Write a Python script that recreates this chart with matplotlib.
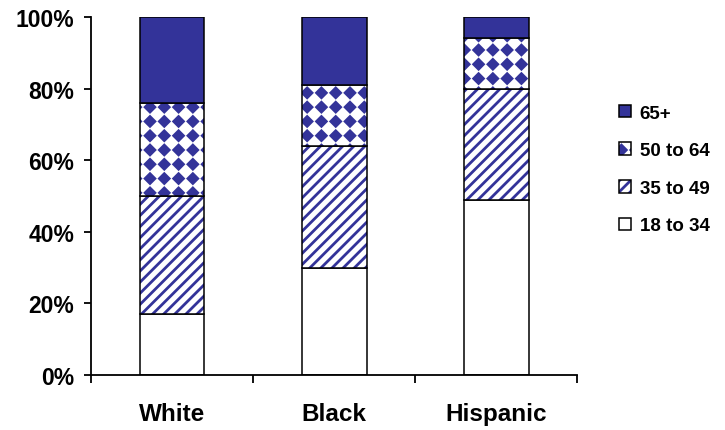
import numpy as np
import matplotlib
matplotlib.use("Agg")
import matplotlib.pyplot as plt
import matplotlib.hatch as mhatch
from matplotlib.path import Path
from matplotlib.colors import to_rgba

# data (percent of each group)
groups = ["White", "Black", "Hispanic"]
age_bands = ["18 to 34", "35 to 49", "50 to 64", "65+"]
share_18_34 = [17, 30, 49]
share_35_49 = [33, 34, 31]
share_50_64 = [26, 17, 14]
share_65_up = [24, 19, 6]
y_ticks = [0, 20, 40, 60, 80, 100]
y_labels = [f"{v}%" for v in y_ticks]

BLUE = "#333399"


# hatch patterns closer to the old spreadsheet look
class Stripes(mhatch.HatchPatternBase):
    def __init__(self, hatch, density):
        self.num_lines = 18 if "/" in hatch else 0
        self.num_vertices = (self.num_lines + 1) * 2 if self.num_lines else 0

    def set_vertices_and_codes(self, vertices, codes):
        steps = np.linspace(-0.5, 0.5, self.num_lines + 1)
        vertices[0::2, 0] = 0.0 + steps
        vertices[0::2, 1] = 0.0 - steps
        vertices[1::2, 0] = 1.0 + steps
        vertices[1::2, 1] = 1.0 - steps
        codes[0::2] = Path.MOVETO
        codes[1::2] = Path.LINETO


class Diamonds(mhatch.HatchPatternBase):
    def __init__(self, hatch, density):
        self.n = 7 if "*" in hatch else 0
        self.num_vertices = self.n * self.n * 5

    def set_vertices_and_codes(self, vertices, codes):
        n = self.n
        r = 0.34 / n
        shape = np.array([[0, r], [-r, 0], [0, -r], [r, 0], [0, r]])
        k = 0
        for i in range(n):
            for j in range(n):
                vertices[k:k + 5] = shape + [(i + 0.5) / n, (j + 0.5) / n]
                codes[k] = Path.MOVETO
                codes[k + 1:k + 4] = Path.LINETO
                codes[k + 4] = Path.CLOSEPOLY
                k += 5


mhatch._hatch_types = [mhatch.HorizontalHatch, mhatch.VerticalHatch, Stripes,
                       mhatch.SouthEastHatch, mhatch.SmallCircles,
                       mhatch.LargeCircles, mhatch.SmallFilledCircles, Diamonds]

plt.rcParams["font.family"] = ["Liberation Sans", "DejaVu Sans"]
plt.rcParams["font.weight"] = "bold"
plt.rcParams["hatch.linewidth"] = 2.0

fig = plt.figure(figsize=(7.25, 4.31), dpi=100)
ax = fig.add_axes([0.1255, 0.1276, 0.671, 0.8306])

x = np.arange(len(groups))
layers = [
    (share_18_34, "white", None),
    (share_35_49, "white", "/"),
    (share_50_64, "white", "*"),
    (share_65_up, BLUE, None),
]
bottom = np.zeros(len(groups))
handles = []
for (vals, fc, hatch), label in zip(layers, age_bands):
    bars = ax.bar(x, vals, width=0.4, bottom=bottom, color=fc, hatch=hatch,
                  edgecolor="black", linewidth=1.1, label=label, zorder=2)
    for b in bars:
        b._hatch_color = to_rgba(BLUE)
    handles.append(bars)
    bottom += np.array(vals)

ax.set_xlim(-0.5, len(groups) - 0.5)
ax.set_ylim(0, 100)
ax.set_yticks(y_ticks)
ax.set_yticklabels(y_labels, fontsize=16.5, fontweight="bold")
ax.set_xticks(np.arange(len(groups) + 1) - 0.5)
ax.set_xticklabels([])
ax.set_xticks(x, minor=True)
ax.set_xticklabels(groups, minor=True, fontsize=17.5, fontweight="bold")
ax.tick_params(axis="x", which="minor", length=0, pad=19.5)
ax.tick_params(axis="x", which="major", length=5.5, width=1.3, direction="out")
ax.tick_params(axis="y", length=5, width=1.3, pad=7)
for side in ["top", "right"]:
    ax.spines[side].set_visible(False)
for side in ["left", "bottom"]:
    ax.spines[side].set_linewidth(1.3)

fig.legend(handles[::-1], age_bands[::-1], loc="upper left",
           bbox_to_anchor=(0.854, 0.755), frameon=False,
           handlelength=0.65, handleheight=0.65, handletextpad=0.45,
           labelspacing=1.1, borderpad=0, borderaxespad=0,
           prop={"weight": "bold", "size": 13.5})

fig.savefig("out.png", dpi=100)
